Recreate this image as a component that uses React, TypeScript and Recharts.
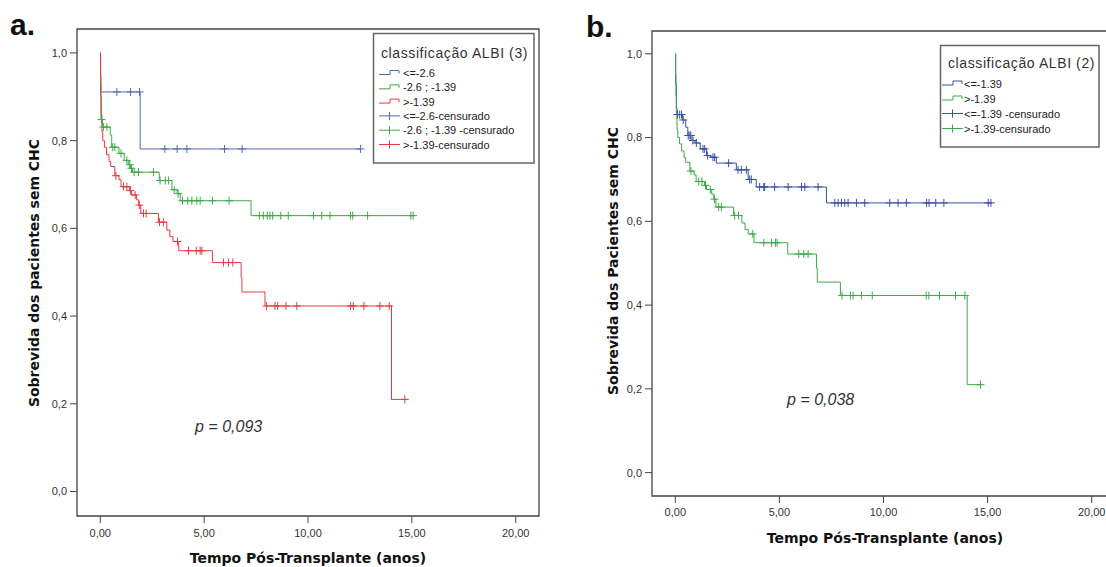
import React from 'react';
import { ComposedChart, Line, Scatter, XAxis, YAxis, ReferenceArea } from 'recharts';

type Pt = { t: number; s: number };

const xTicks = [0, 5, 10, 15, 20];
const yTicks = [0, 0.2, 0.4, 0.6, 0.8, 1.0];

// a. classificação ALBI (3) : <=-2.6
const albiLow: Pt[] = [
  { t: 0, s: 1 }, { t: 0.02, s: 0.911 }, { t: 1.92, s: 0.781 },
];
const albiLowCens = [0.8, 1.46, 1.89, 3.11, 3.7, 4.17, 5.98, 6.83, 12.53];

// a. -2.6 ; -1.39
const albiMid: Pt[] = [
  { t: 0, s: 1 }, { t: 0.01, s: 0.93 }, { t: 0.03, s: 0.848 }, { t: 0.1, s: 0.831 },
  { t: 0.48, s: 0.813 }, { t: 0.55, s: 0.785 }, { t: 0.9, s: 0.771 }, { t: 1.15, s: 0.755 },
  { t: 1.35, s: 0.745 }, { t: 1.45, s: 0.737 }, { t: 1.55, s: 0.728 }, { t: 2.84, s: 0.709 },
  { t: 3.45, s: 0.688 }, { t: 3.7, s: 0.679 }, { t: 3.85, s: 0.663 }, { t: 7.26, s: 0.629 },
];
const albiMidCens = [
  0.06, 0.15, 0.32, 0.6, 0.7, 1.0, 1.28, 1.42, 1.5, 1.63, 1.84, 2.56, 2.88, 3.13, 3.29,
  3.56, 3.75, 3.96, 4.21, 4.41, 4.65, 4.81, 5.4, 6.2, 7.66, 7.85, 8.04, 8.17, 8.3, 8.69,
  9.05, 10.26, 10.66, 11.06, 12.05, 12.15, 12.87, 14.95, 15.06,
];

// >-1.39 (mesmo grupo nos dois painéis)
const albiHigh: Pt[] = [
  { t: 0, s: 1 }, { t: 0.01, s: 0.95 }, { t: 0.03, s: 0.9 }, { t: 0.05, s: 0.86 },
  { t: 0.08, s: 0.82 }, { t: 0.12, s: 0.8 }, { t: 0.2, s: 0.785 }, { t: 0.3, s: 0.768 },
  { t: 0.42, s: 0.752 }, { t: 0.5, s: 0.741 }, { t: 0.7, s: 0.72 }, { t: 0.9, s: 0.711 },
  { t: 1.0, s: 0.695 }, { t: 1.4, s: 0.686 }, { t: 1.5, s: 0.676 }, { t: 1.75, s: 0.665 },
  { t: 1.85, s: 0.653 }, { t: 1.95, s: 0.634 }, { t: 2.8, s: 0.614 }, { t: 3.2, s: 0.596 },
  { t: 3.35, s: 0.581 }, { t: 3.5, s: 0.57 }, { t: 3.78, s: 0.549 }, { t: 5.4, s: 0.522 },
  { t: 6.78, s: 0.488 }, { t: 6.82, s: 0.455 }, { t: 7.93, s: 0.423 }, { t: 14.02, s: 0.21 },
];
const albiHighCens = [
  0.75, 1.12, 1.28, 1.45, 1.68, 1.88, 2.08, 2.21, 2.85, 3.04, 3.72, 4.25, 4.62, 4.81, 4.89,
  5.93, 6.17, 6.38, 8.01, 8.41, 8.54, 8.94, 9.46, 12.05, 12.18, 12.69, 13.46, 13.91, 14.66,
];

// b. classificação ALBI (2) : <=-1.39
const albiLowB: Pt[] = [
  { t: 0, s: 1 }, { t: 0.02, s: 0.93 }, { t: 0.05, s: 0.87 }, { t: 0.08, s: 0.855 },
  { t: 0.35, s: 0.842 }, { t: 0.5, s: 0.825 }, { t: 0.6, s: 0.805 }, { t: 0.8, s: 0.793 },
  { t: 0.95, s: 0.787 }, { t: 1.2, s: 0.773 }, { t: 1.5, s: 0.757 }, { t: 1.7, s: 0.753 },
  { t: 1.97, s: 0.739 }, { t: 2.93, s: 0.723 }, { t: 3.5, s: 0.7 }, { t: 3.89, s: 0.682 },
  { t: 7.26, s: 0.644 },
];
const albiLowBCens = [
  0.1, 0.21, 0.3, 0.38, 0.62, 0.7, 0.74, 0.85, 1.01, 1.33, 1.41, 1.55, 1.81, 1.89, 2.56,
  3.01, 3.17, 3.41, 3.57, 3.65, 4.05, 4.25, 4.29, 4.77, 5.42, 6.06, 6.22, 6.86, 7.66, 7.82,
  7.98, 8.14, 8.3, 8.7, 9.1, 10.3, 10.7, 11.1, 12.07, 12.19, 12.51, 12.9, 15.03, 15.16,
];

const X_DOMAIN: [number, number] = [-1.12, 21.12];
const Y_DOMAIN: [number, number] = [-0.0558, 1.0545];

const BLUE_A = '#5468b4';
const BLUE_B = '#3b4fa4';
const GREEN = '#3daa48';
const RED = '#e53b3f';

const SANS = '"Liberation Sans", Arial, sans-serif';
const TITLE = '"DejaVu Sans", Verdana, sans-serif';

const survivalAt = (ev: Pt[], t: number) => {
  let s = ev[0].s;
  for (const p of ev) if (p.t <= t) s = p.s;
  return s;
};
const lineData = (ev: Pt[], cens: number[]) => {
  const last = ev[ev.length - 1];
  return [...ev, { t: Math.max(last.t, ...cens), s: last.s }];
};
const censData = (ev: Pt[], cens: number[]) => cens.map((t) => ({ t, s: survivalAt(ev, t) }));

const cross = (color: string) => (props: any) => {
  const { cx, cy } = props;
  if (cx == null || cy == null) return <g />;
  return (
    <path d={`M${cx - 4},${cy}H${cx + 4}M${cx},${cy - 4}V${cy + 4}`} stroke={color} strokeWidth={1} fill="none" />
  );
};

type Series = { id: string; color: string; events: Pt[]; cens: number[] };

interface PanelProps {
  left: number;
  width: number;
  height: number;
  plotTop: number;
  yAxisWidth: number;
  tickGap: number;
  series: Series[];
}

const KMPanel: React.FC<PanelProps> = ({ left, width, height, plotTop, yAxisWidth, tickGap, series }) => (
  <div style={{ position: 'absolute', left, top: 0 }}>
    <ComposedChart width={width} height={height} margin={{ top: plotTop, right: 5, bottom: 0, left: 0 }}>
      <XAxis
        type="number"
        dataKey="t"
        domain={X_DOMAIN}
        ticks={xTicks}
        allowDataOverflow
        height={40}
        axisLine={false}
        tickSize={7}
        tickMargin={tickGap}
        tickLine={{ stroke: '#444' }}
        tick={{ fill: '#333', fontSize: 11, fontFamily: SANS }}
        tickFormatter={(v: number) => v.toFixed(2).replace('.', ',')}
      />
      <YAxis
        type="number"
        domain={Y_DOMAIN}
        ticks={yTicks}
        allowDataOverflow
        width={yAxisWidth}
        axisLine={false}
        tickSize={7}
        tickMargin={3}
        tickLine={{ stroke: '#444' }}
        tick={{ fill: '#333', fontSize: 11, fontFamily: SANS }}
        tickFormatter={(v: number) => v.toFixed(1).replace('.', ',')}
      />
      <ReferenceArea
        x1={X_DOMAIN[0]}
        x2={X_DOMAIN[1]}
        y1={Y_DOMAIN[0]}
        y2={Y_DOMAIN[1]}
        fill="none"
        stroke="#444"
        strokeWidth={1.3}
        ifOverflow="visible"
      />
      {series.flatMap((sr) => [
        <Line
          key={sr.id + '-l'}
          data={lineData(sr.events, sr.cens)}
          dataKey="s"
          type="stepAfter"
          stroke={sr.color}
          strokeWidth={1}
          dot={false}
          activeDot={false}
          isAnimationActive={false}
        />,
        <Scatter
          key={sr.id + '-c'}
          data={censData(sr.events, sr.cens)}
          dataKey="s"
          shape={cross(sr.color)}
          isAnimationActive={false}
        />,
      ])}
    </ComposedChart>
  </div>
);

const StepIcon = ({ x, y, color }: { x: number; y: number; color: string }) => (
  <path d={`M${x},${y + 1.5}H${x + 11}V${y - 2.5}H${x + 20}V${y + 0.5}`} stroke={color} fill="none" strokeWidth={1} />
);
const CrossIcon = ({ x, y, color }: { x: number; y: number; color: string }) => (
  <path d={`M${x},${y}H${x + 21}M${x + 10.5},${y - 4}V${y + 4}`} stroke={color} fill="none" strokeWidth={1} />
);

const legendA = [
  { label: '<=-2.6', color: BLUE_A, kind: 'step' },
  { label: '-2.6 ; -1.39', color: GREEN, kind: 'step' },
  { label: '>-1.39', color: RED, kind: 'step' },
  { label: '<=-2.6-censurado', color: BLUE_A, kind: 'cross' },
  { label: '-2.6 ; -1.39 -censurado', color: GREEN, kind: 'cross' },
  { label: '>-1.39-censurado', color: RED, kind: 'cross' },
];
const legendB = [
  { label: '<=-1.39', color: BLUE_B, kind: 'step' },
  { label: '>-1.39', color: GREEN, kind: 'step' },
  { label: '<=-1.39 -censurado', color: BLUE_B, kind: 'cross' },
  { label: '>-1.39-censurado', color: GREEN, kind: 'cross' },
];

const App: React.FC = () => {
  return (
    <div style={{ position: 'absolute', left: 0, top: 0, width: 1106, height: 567, overflow: 'hidden', background: '#fff' }}>
      <KMPanel
        left={0}
        width={544}
        height={556}
        plotTop={29}
        yAxisWidth={77}
        tickGap={6}
        series={[
          { id: 'a1', color: BLUE_A, events: albiLow, cens: albiLowCens },
          { id: 'a2', color: GREEN, events: albiMid, cens: albiMidCens },
          { id: 'a3', color: RED, events: albiHigh, cens: albiHighCens },
        ]}
      />
      <KMPanel
        left={600}
        width={520}
        height={536}
        plotTop={31}
        yAxisWidth={52}
        tickGap={5}
        series={[
          { id: 'b1', color: BLUE_B, events: albiLowB, cens: albiLowBCens },
          { id: 'b2', color: GREEN, events: albiHigh, cens: albiHighCens },
        ]}
      />
      <svg width={1106} height={567} style={{ position: 'absolute', left: 0, top: 0, pointerEvents: 'none' }}>
        <text x={10} y={35} fontFamily={SANS} fontWeight="bold" fontSize={30} fill="#111">a.</text>
        <text x={586} y={37} fontFamily={SANS} fontWeight="bold" fontSize={30} fill="#111">b.</text>

        <text x={308} y={563} textAnchor="middle" fontFamily={TITLE} fontWeight="bold" fontSize={14} fill="#111">
          Tempo Pós-Transplante (anos)
        </text>
        <text x={885} y={543} textAnchor="middle" fontFamily={TITLE} fontWeight="bold" fontSize={14} fill="#111">
          Tempo Pós-Transplante (anos)
        </text>
        <text x={39} y={273} transform="rotate(-90 39 273)" textAnchor="middle" fontFamily={TITLE} fontWeight="bold" fontSize={14} fill="#111">
          Sobrevida dos pacientes sem CHC
        </text>
        <text x={618} y={261} transform="rotate(-90 618 261)" textAnchor="middle" fontFamily={TITLE} fontWeight="bold" fontSize={14} fill="#111">
          Sobrevida dos Pacientes sem CHC
        </text>

        <text x={195} y={432} fontFamily={SANS} fontStyle="italic" fontSize={16} fill="#333">p = 0,093</text>
        <text x={787} y={405} fontFamily={SANS} fontStyle="italic" fontSize={16} fill="#333">p = 0,038</text>

        <rect x={373.5} y={33.5} width={160.5} height={129.5} fill="#fff" stroke="#666" strokeWidth={1.5} />
        <text x={381} y={57.5} fontFamily={SANS} fontSize={14} letterSpacing={0.6} fill="#333">classificação ALBI (3)</text>
        {legendA.map((it, i) => {
          const cy = 73 + i * 14.3;
          return (
            <g key={it.label}>
              {it.kind === 'step' ? <StepIcon x={379} y={cy} color={it.color} /> : <CrossIcon x={379} y={cy} color={it.color} />}
              <text x={403} y={cy + 4} fontFamily={SANS} fontSize={11} fill="#222">{it.label}</text>
            </g>
          );
        })}

        <rect x={940.5} y={45.5} width={158.5} height={101.5} fill="#fff" stroke="#666" strokeWidth={1.5} />
        <text x={948} y={68} fontFamily={SANS} fontSize={14} letterSpacing={0.6} fill="#333">classificação ALBI (2)</text>
        {legendB.map((it, i) => {
          const cy = 83.5 + i * 15;
          return (
            <g key={it.label}>
              {it.kind === 'step' ? <StepIcon x={942} y={cy} color={it.color} /> : <CrossIcon x={942} y={cy} color={it.color} />}
              <text x={964} y={cy + 4} fontFamily={SANS} fontSize={11} fill="#222">{it.label}</text>
            </g>
          );
        })}
      </svg>
    </div>
  );
};

export default App;
